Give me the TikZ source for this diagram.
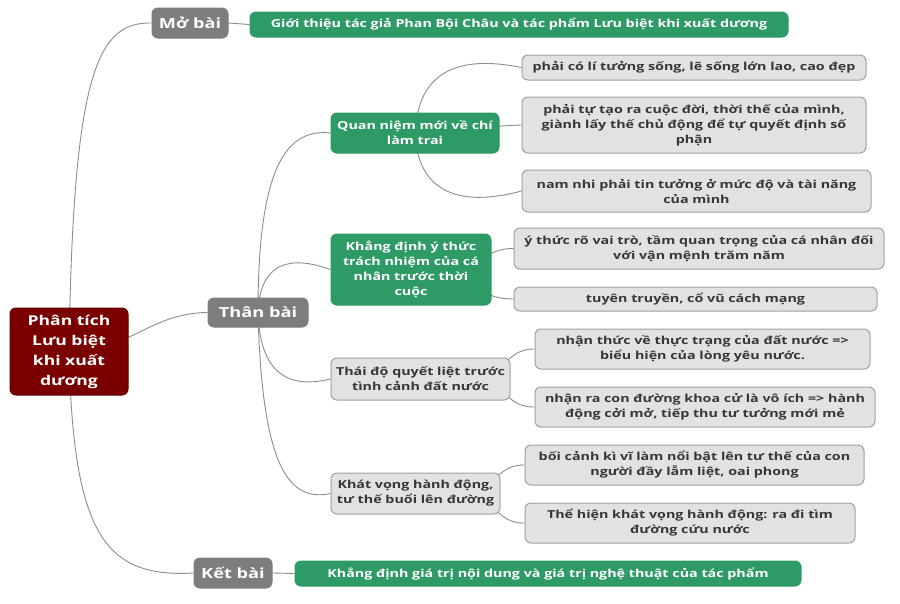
\documentclass[tikz,border=0pt]{standalone}
\usepackage{fontspec}
\setmainfont{Open Sans}[FakeStretch=1.3]
\usetikzlibrary{backgrounds}
\definecolor{mgreen}{RGB}{46,154,102}
\definecolor{sectgray}{RGB}{125,125,125}
\definecolor{rootred}{RGB}{122,0,0}
\definecolor{rootborder}{RGB}{95,0,0}
\definecolor{leaffill}{RGB}{226,226,226}
\definecolor{leafborder}{RGB}{160,160,160}
\definecolor{leaftext}{RGB}{55,55,55}
\definecolor{linegray}{RGB}{140,140,140}
\begin{document}
\begin{tikzpicture}[x=1pt,y=-1pt,
  box/.style={rounded corners=6pt, inner sep=0pt, align=center, line width=1pt,
    font=\fontsize{11}{15}\selectfont\bfseries},
  leaf/.style={box, fill=leaffill, draw=leafborder, text=leaftext},
  gnode/.style={box, fill=mgreen, draw=mgreen, text=white},
  sect/.style={box, fill=sectgray, draw=sectgray, text=white, font=\fontsize{14}{18}\selectfont\bfseries},
  rootnode/.style={box, fill=rootred, draw=rootborder, text=white, font=\fontsize{13.5}{20}\selectfont\bfseries},
  link/.style={draw=linegray, line width=0.9pt}]
\useasboundingbox (0,0) rectangle (900,603);
% main nodes
\node[rootnode, minimum width=118pt, minimum height=87pt] (root) at (69,351.5) {Phân tích\\Lưu biệt\\khi xuất\\dương};
\node[sect, minimum width=76pt, minimum height=30pt] (mobai) at (190,23) {Mở bài};
\node[gnode, minimum width=538pt, minimum height=25pt] (gt) at (519,24.5) {Giới thiệu tác giả Phan Bội Châu và tác phẩm Lưu biệt khi xuất dương};
\node[sect, minimum width=100pt, minimum height=29pt] (thanbai) at (258,312.5) {Thân bài};
\node[sect, minimum width=78pt, minimum height=30pt] (ketbai) at (233,573) {Kết bài};
\node[gnode, minimum width=506pt, minimum height=25pt] (kb) at (548,573.5) {Khẳng định giá trị nội dung và giá trị nghệ thuật của tác phẩm};
% second level
\node[gnode, minimum width=168pt, minimum height=40pt] (qn) at (415,133) {Quan niệm mới về chí\\làm trai};
\node[gnode, minimum width=160pt, minimum height=71pt] (kd) at (411,269.5) {Khẳng định ý thức\\trách nhiệm của cá\\nhân trước thời\\cuộc};
\node[leaf, minimum width=179pt, minimum height=42pt] (td) at (420.5,379) {Thái độ quyết liệt trước\\tình cảnh đất nước};
\node[leaf, minimum width=169pt, minimum height=41pt] (kv) at (415.5,493.5) {Khát vọng hành động,\\tư thế buổi lên đường};
% leaves
\node[leaf, minimum width=344pt, minimum height=25pt] (l1) at (694,67.5) {phải có lí tưởng sống, lẽ sống lớn lao, cao đẹp};
\node[leaf, minimum width=344pt, minimum height=56pt] (l2) at (694,125) {phải tự tạo ra cuộc đời, thời thế của mình,\\giành lấy thế chủ động để tự quyết định số\\phận};
\node[leaf, minimum width=349pt, minimum height=42pt] (l3) at (696.5,191) {nam nhi phải tin tưởng ở mức độ và tài năng\\của mình};
\node[leaf, minimum width=370pt, minimum height=41pt] (l4) at (699,248.5) {ý thức rõ vai trò, tầm quan trọng của cá nhân đối\\với vận mệnh trăm năm};
\node[leaf, minimum width=363pt, minimum height=24pt] (l5) at (695.5,299) {tuyên truyền, cổ vũ cách mạng};
\node[leaf, minimum width=335pt, minimum height=40pt] (l6) at (702.5,349) {nhận thức về thực trạng của đất nước =>\\biểu hiện của lòng yêu nước.};
\node[leaf, minimum width=340pt, minimum height=40pt] (l7) at (705,407) {nhận ra con đường khoa cử là vô ích => hành\\động cởi mở, tiếp thu tư tưởng mới mẻ};
\node[leaf, minimum width=339pt, minimum height=40pt] (l8) at (694.5,465) {bối cảnh kì vĩ làm nổi bật lên tư thế của con\\người đầy lẫm liệt, oai phong};
\node[leaf, minimum width=330pt, minimum height=40pt] (l9) at (690,523) {Thể hiện khát vọng hành động: ra đi tìm\\đường cứu nước};
% connectors
\begin{scope}[on background layer]
\draw[link] (root.center) .. controls (73,70) and (98,22) .. (mobai.west);
\draw[link] (root.center) .. controls (73,535) and (105,578) .. (ketbai.west);
\draw[link] (root.center) .. controls (130,351) and (150,313) .. (thanbai.west);
\draw[link] (mobai.east) -- (gt.west);
\draw[link] (ketbai.east) -- (kb.west);
\draw[link] (thanbai.center) .. controls (258,170) and (285,128) .. (qn.west);
\draw[link] (thanbai.center) .. controls (260,262) and (290,255) .. (kd.west);
\draw[link] (thanbai.center) .. controls (260,370) and (285,390) .. (td.west);
\draw[link] (thanbai.center) .. controls (262,470) and (290,502) .. (kv.west);
\draw[link] (qn.center) .. controls (418,70) and (460,55) .. (l1.west);
\draw[link] (qn.center) .. controls (470,133) and (480,126) .. (l2.west);
\draw[link] (qn.center) .. controls (418,200) and (470,205) .. (l3.west);
\draw[link] (kd.center) .. controls (480,270) and (485,248) .. (l4.west);
\draw[link] (kd.center) .. controls (480,270) and (470,299) .. (l5.west);
\draw[link] (td.center) .. controls (520,379) and (500,349) .. (l6.west);
\draw[link] (td.center) .. controls (520,379) and (500,407) .. (l7.west);
\draw[link] (kv.center) .. controls (510,494) and (490,465) .. (l8.west);
\draw[link] (kv.center) .. controls (510,494) and (490,523) .. (l9.west);
\end{scope}
\end{tikzpicture}
\end{document}
